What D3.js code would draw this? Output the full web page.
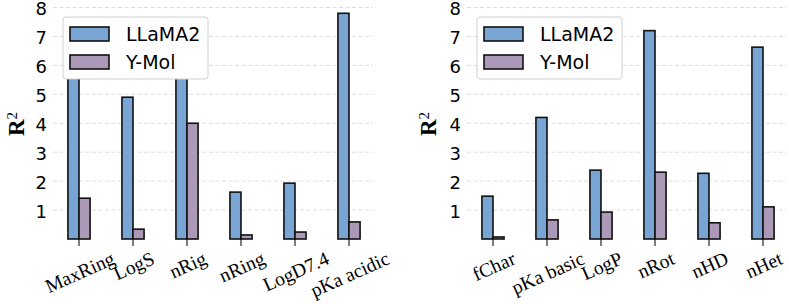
<!DOCTYPE html>
<html>
<head>
<meta charset="utf-8">
<script src="https://cdn.jsdelivr.net/npm/d3@7"></script>
<style>
  body { margin: 0; background: #fff; }
  svg { display: block; }
</style>
</head>
<body>
<svg id="chart"></svg>
<script>
// data
const leftCats = ["MaxRing", "LogS", "nRig", "nRing", "LogD7.4", "pKa acidic"];
const leftLlama = [6.4, 4.9, 6.0, 1.62, 1.93, 7.8];
const leftYmol = [1.41, 0.34, 4.0, 0.14, 0.24, 0.59];

const rightCats = ["fChar", "pKa basic", "LogP", "nRot", "nHD", "nHet"];
const rightLlama = [1.48, 4.2, 2.38, 7.2, 2.27, 6.63];
const rightYmol = [0.07, 0.66, 0.93, 2.31, 0.56, 1.11];

const yTicks = [1, 2, 3, 4, 5, 6, 7, 8];
const seriesNames = ["LLaMA2", "Y-Mol"];
const colors = ["#78a5d4", "#ab99b7"];

const W = 789, H = 304;
const svg = d3.select("#chart").attr("width", W).attr("height", H);

const y = d3.scaleLinear().domain([0, 8]).range([239, 7.5]);

function panel(cats, llama, ymol, x0, x1, tickRight, yLabelX, legendX) {
    const g = svg.append("g");
    const x = d3.scaleBand().domain(cats).range([x0, x1]);
    const barW = x.step() * 0.205;

    // grid
    g.selectAll("line.grid")
        .data(yTicks)
        .enter()
        .append("line")
        .attr("x1", x0 + 1)
        .attr("x2", x1 - 3)
        .attr("y1", d => y(d))
        .attr("y2", d => y(d))
        .attr("stroke", "#d9d9d9")
        .attr("stroke-width", 0.9)
        .attr("stroke-dasharray", "4,2.5");

    // y tick labels
    g.selectAll("text.ytick")
        .data(yTicks)
        .enter()
        .append("text")
        .attr("x", tickRight)
        .attr("y", d => y(d) + 1.5)
        .attr("dy", "0.36em")
        .attr("text-anchor", "end")
        .style("font-family", "DejaVu Sans, sans-serif")
        .style("font-size", "18px")
        .text(d => d);

    // bars
    const rows = cats.map((c, i) => ({ c: c, a: llama[i], b: ymol[i] }));
    const cx = c => x(c) + x.bandwidth() / 2;

    g.selectAll("rect.a")
        .data(rows)
        .enter()
        .append("rect")
        .attr("x", d => cx(d.c) - barW)
        .attr("y", d => y(d.a))
        .attr("width", barW)
        .attr("height", d => y(0) - y(d.a))
        .attr("fill", colors[0])
        .attr("stroke", "#111")
        .attr("stroke-width", 1.6);

    g.selectAll("rect.b")
        .data(rows)
        .enter()
        .append("rect")
        .attr("x", d => cx(d.c))
        .attr("y", d => y(d.b))
        .attr("width", barW)
        .attr("height", d => y(0) - y(d.b))
        .attr("fill", colors[1])
        .attr("stroke", "#111")
        .attr("stroke-width", 1.6);

    // x ticks
    g.selectAll("line.xtick")
        .data(cats)
        .enter()
        .append("line")
        .attr("x1", d => cx(d))
        .attr("x2", d => cx(d))
        .attr("y1", y(0))
        .attr("y2", y(0) + 7)
        .attr("stroke", "#111")
        .attr("stroke-width", 1.1);

    // x labels, rotated like matplotlib with ha=center
    const ang = 24 * Math.PI / 180;
    g.selectAll("text.xlab")
        .data(cats)
        .enter()
        .append("text")
        .style("font-family", "Liberation Serif, Times New Roman, serif")
        .style("font-size", "19.5px")
        .attr("text-anchor", "middle")
        .attr("dy", "0.32em")
        .text(d => d)
        .each(function (d) {
            const w = this.getComputedTextLength();
            const h = 21;
            const cy = 248 + (w * Math.sin(ang) + h * Math.cos(ang)) / 2;
            d3.select(this).attr("transform", "translate(" + (cx(d) + 1) + "," + cy + ") rotate(-24)");
        });

    // y label
    const yl = g.append("text")
        .attr("transform", "translate(" + yLabelX + ",124) rotate(-90)")
        .attr("text-anchor", "middle")
        .attr("dy", "0.35em")
        .style("font-family", "Liberation Serif, Times New Roman, serif")
        .style("font-weight", "bold")
        .style("font-size", "23px");
    yl.append("tspan").text("R");
    yl.append("tspan").attr("dy", "-0.45em").style("font-size", "15px").style("font-weight", "normal").text("2");

    // legend
    const lg = g.append("g").attr("transform", "translate(" + legendX + ",17)");
    lg.append("rect")
        .attr("width", 145)
        .attr("height", 62)
        .attr("rx", 3)
        .attr("fill", "#fff")
        .attr("stroke", "#d0d0d0")
        .attr("stroke-width", 1);
    seriesNames.forEach((s, i) => {
        lg.append("rect")
            .attr("x", 7)
            .attr("y", 10 + i * 28)
            .attr("width", 39)
            .attr("height", 14)
            .attr("fill", colors[i])
            .attr("stroke", "#111")
            .attr("stroke-width", 1.6);
        lg.append("text")
            .attr("x", 63)
            .attr("y", 17 + i * 28)
            .attr("dy", "0.36em")
            .style("font-family", "DejaVu Sans, sans-serif")
            .style("font-size", "19px")
            .text(s);
    });
}

panel(leftCats, leftLlama, leftYmol, 52, 376, 47, 16, 63);
panel(rightCats, rightLlama, rightYmol, 466, 790, 461, 428, 477);
</script>
</body>
</html>
